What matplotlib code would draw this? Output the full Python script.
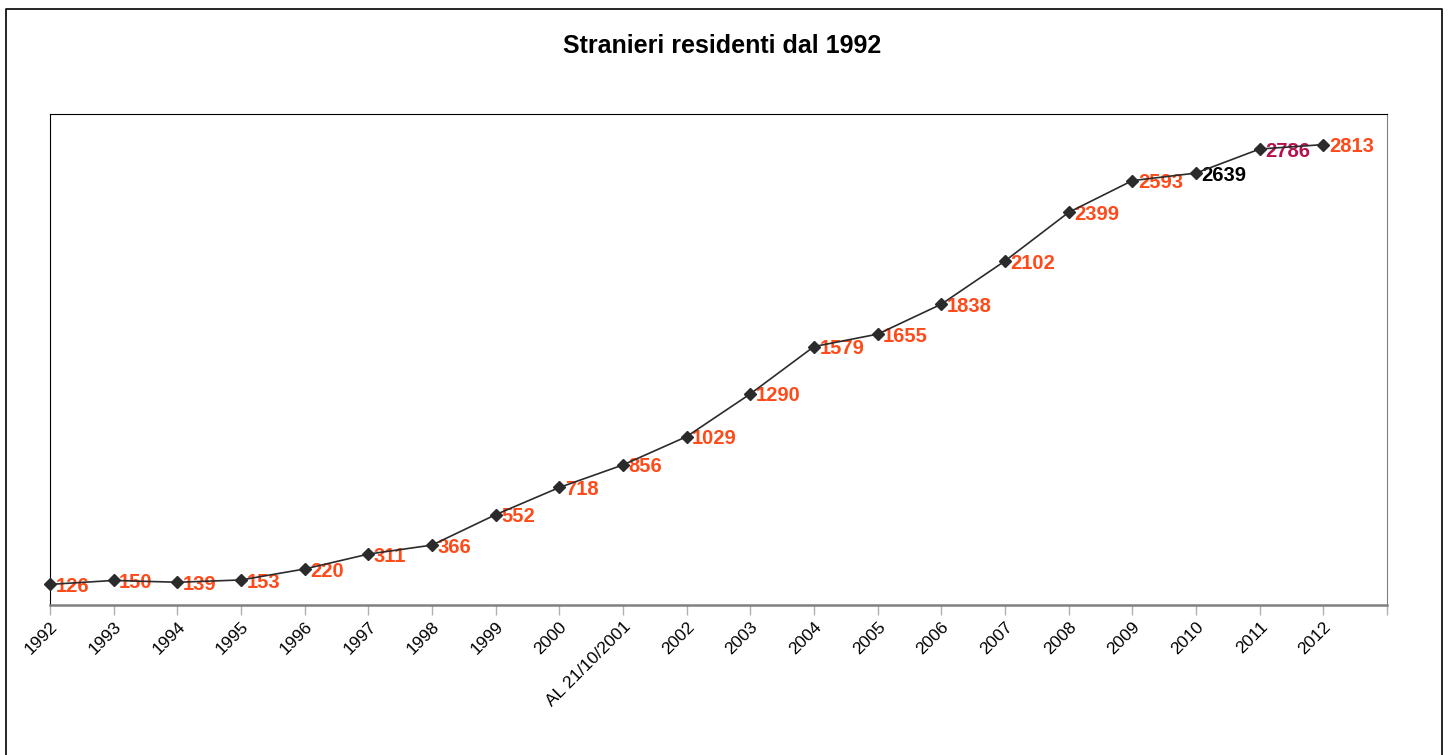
import numpy as np
import matplotlib.pyplot as plt
from matplotlib.lines import Line2D

plt.rcParams['font.family'] = ['Liberation Sans', 'DejaVu Sans']

# categories and values
years = ['1992', '1993', '1994', '1995', '1996', '1997', '1998', '1999', '2000',
         'AL 21/10/2001', '2002', '2003', '2004', '2005', '2006', '2007', '2008',
         '2009', '2010', '2011', '2012']
residents = [126, 150, 139, 153, 220, 311, 366, 552, 718, 856, 1029, 1290,
             1579, 1655, 1838, 2102, 2399, 2593, 2639, 2786, 2813]
label_colors = ['#FF4A1A'] * 18 + ['#000000', '#B5124F', '#FF4A1A']

fig = plt.figure(figsize=(14.49, 7.55), dpi=100)
ax = fig.add_axes([50 / 1449, 1 - 605 / 755, 1337 / 1449, 491 / 755])

x = np.arange(len(years))
ax.plot(x, residents, color='#2b2b2b', lw=1.2, marker='D', ms=6.3,
        mfc='#2b2b2b', mec='#2b2b2b', zorder=3, clip_on=False)

for xi, v, c in zip(x, residents, label_colors):
    ax.annotate(str(v), (xi, v), xytext=(4, -1.5), textcoords='offset points',
                ha='left', va='center', fontsize=14.5, fontweight='bold',
                color=c, zorder=2)

ax.set_xlim(0, len(years))
ax.set_ylim(0, 3000)
ax.set_yticks([])
ax.set_xticks(np.arange(len(years) + 1))
ax.set_xticklabels(years + [''], rotation=45, ha='right',
                   rotation_mode='anchor', fontsize=12.5)
ax.tick_params(axis='x', length=7, width=1, color='#b0b0b0', pad=3)

ax.spines['left'].set_color('black')
ax.spines['top'].set_color('black')
ax.spines['right'].set_color('#808080')
ax.spines['bottom'].set_color('#808080')
ax.spines['bottom'].set_linewidth(1.8)

fig.text(722 / 1449, 1 - 46 / 755, 'Stranieri residenti dal 1992',
         ha='center', va='center', fontsize=18, fontweight='bold')

# outer chart frame
fl, fr, ft = 6.5 / 1449, 1441.5 / 1449, 1 - 8.5 / 755
fig.add_artist(Line2D([fl, fl, fr, fr], [-0.1, ft, ft, -0.1],
                      transform=fig.transFigure, color='black', lw=1.2))

fig.savefig('out.png', dpi=100)
